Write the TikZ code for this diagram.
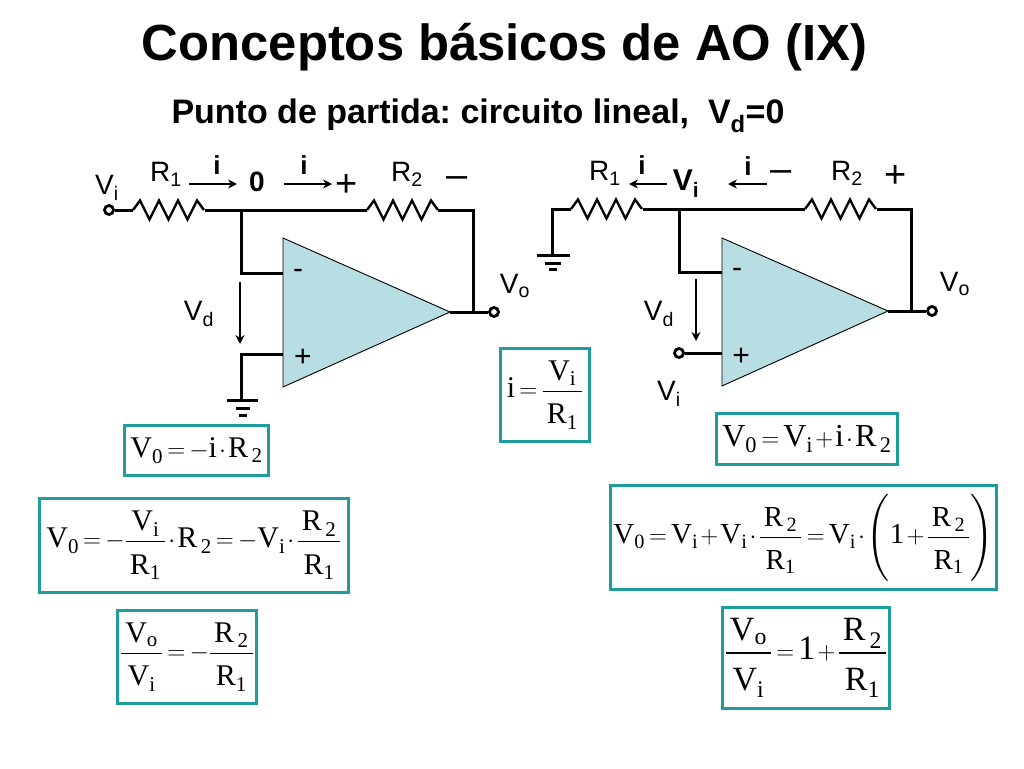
\documentclass[tikz,border=0pt]{standalone}
\usepackage{amsmath,amssymb}
\usepackage{xcolor}
\usepackage{fontspec}
\setmainfont{Liberation Sans}
\setmathrm{Liberation Serif}
\setmathsf{Liberation Sans}
\usetikzlibrary{arrows.meta}
\definecolor{boxteal}{HTML}{1F9C9C}
\definecolor{opfill}{HTML}{B8DDE3}
\thickmuskip=3mu
\medmuskip=1.5mu
\frenchspacing
\newcommand{\Vsub}[1]{\mathrm{V}_{\mathrm{#1}}}
\newcommand{\Rsub}[1]{\mathrm{R}_{\,\mathrm{#1}}}
\newcommand{\Lsub}[2]{#1$_{\text{#2}}$}
\newcommand{\fsize}[1]{\fontsize{#1}{#1}\selectfont}
\newcommand{\eqfrac}[2]{\dfrac{\,#1\rule[-0.22em]{0pt}{0.22em}\,}{\rule{0pt}{0.95em}\,#2\,}}
\tikzset{
  wire/.style={draw=black, line width=3pt, line join=miter},
  curarrow/.style={draw=black, line width=2.2pt, -{Stealth[length=9pt,width=9pt]}},
  opamp/.style={draw=black, line width=0.9pt, fill=opfill},
  terminal/.style={circle, draw=black, fill=white, line width=2.8pt, minimum size=9pt, inner sep=0pt},
  lbl/.style={font=\fsize{28}, inner sep=0pt},
  ilbl/.style={font=\fsize{26}\bfseries, inner sep=0pt},
  signlbl/.style={font=\fsize{38}, inner sep=0pt},
  eqbox/.style={draw=boxteal, line width=3pt, fill=white, inner sep=0pt, font=\fsize{30}},
  resistor/.pic={
    \draw[wire, line width=2.4pt] (0,0) -- (7,-9.5) -- (16.5,9.5) -- (26,-9.5) -- (35.5,9.5) -- (45,-9.5) -- (54.5,9.5) -- (64,-9.5) -- (71,0);
  }
}
\begin{document}
\begin{tikzpicture}[x=1pt,y=-1pt]
  \useasboundingbox (0,0) rectangle (1024,768);

  \node[font=\fsize{50.8}\bfseries, inner sep=0pt] (title) at (504.5,47) {Conceptos básicos de AO (IX)};
  \node[font=\fsize{34}\bfseries, inner sep=0pt] (subtitle) at (478,116) {Punto de partida: circuito lineal,\ \ \Lsub{V}{d}=0};

  % left circuit
  \coordinate (opa) at (283,238);
  \coordinate (opb) at (283,387);
  \coordinate (opc) at (450,312);
  \draw[opamp] (opa) -- (opc) -- (opb) -- cycle;
  \node[terminal] (vil) at (109,210) {};
  \node[terminal] (vol) at (494,312) {};
  \coordinate (r1a) at (133,210);
  \coordinate (r1b) at (205,210);
  \coordinate (r2a) at (367,210);
  \coordinate (r2b) at (438,210);
  \coordinate (fbt) at (473,210);
  \coordinate (fbb) at (473,312);
  \coordinate (jct) at (241,210);
  \coordinate (inm) at (241,273);
  \coordinate (inmo) at (283,273);
  \coordinate (inp) at (241,354);
  \coordinate (inpo) at (283,354);
  \coordinate (gnd) at (241,400);
  \pic at (r1a) {resistor};
  \pic at (r2a) {resistor};
  \draw[wire] (vil) -- (r1a);
  \draw[wire] (r1b) -- (r2a);
  \draw[wire] (r2b) -- (fbt) -- (fbb);
  \draw[wire] (opc) -- (vol);
  \draw[wire] (jct) -- (inm) -- (inmo);
  \draw[wire] (inpo) -- (inp) -- (gnd);
  \draw[wire] (227,400) -- (258,400);
  \draw[wire] (236,408) -- (250,408);
  \draw[wire] (239,415) -- (247,415);
  \coordinate (vda) at (240,282);
  \coordinate (vdb) at (240,344);
  \draw[curarrow] (vda) -- (vdb);
  \coordinate (ia) at (189,184);
  \coordinate (ib) at (237,184);
  \coordinate (ic) at (284,184);
  \coordinate (id) at (332,184);
  \draw[curarrow] (ia) -- (ib);
  \draw[curarrow] (ic) -- (id);

  \node[lbl] (lvil) at (107,188) {\Lsub{V}{i}};
  \node[lbl] (lr1l) at (166,174) {\Lsub{R}{1}};
  \node[ilbl] (lil) at (217,165) {i};
  \node[font=\fsize{28}\bfseries, inner sep=0pt] (lzero) at (257,182) {0};
  \node[ilbl] (lir) at (304,165) {i};
  \node[signlbl] (lplus) at (347,186) {+};
  \node[lbl] (lr2l) at (407,174) {\Lsub{R}{2}};
  \node[signlbl] (lminus) at (457,182) {–};
  \node[lbl] (lvol) at (515,286) {\Lsub{V}{o}};
  \node[lbl] (lvdl) at (199,314) {\Lsub{V}{d}};
  \node[font=\fsize{30}, inner sep=0pt] (lopm) at (298,274) {-};
  \node[font=\fsize{30}, inner sep=0pt] (lopp) at (303,358) {+};

  % right circuit
  \coordinate (opra) at (722,238);
  \coordinate (oprb) at (722,386);
  \coordinate (oprc) at (888,311);
  \draw[opamp] (opra) -- (oprc) -- (oprb) -- cycle;
  \node[terminal] (vor) at (932,311) {};
  \node[terminal] (vir) at (679,353) {};
  \coordinate (gr) at (552,255);
  \coordinate (grt) at (552,209);
  \coordinate (rr1a) at (571,209);
  \coordinate (rr1b) at (643,209);
  \coordinate (rr2a) at (805,209);
  \coordinate (rr2b) at (877,209);
  \coordinate (fbrt) at (911,209);
  \coordinate (fbrb) at (911,311);
  \coordinate (jctr) at (679,209);
  \coordinate (inmr) at (679,272);
  \coordinate (inmro) at (722,272);
  \coordinate (inpro) at (722,353);
  \pic at (rr1a) {resistor};
  \pic at (rr2a) {resistor};
  \draw[wire] (gr) -- (grt) -- (rr1a);
  \draw[wire] (rr1b) -- (rr2a);
  \draw[wire] (rr2b) -- (fbrt) -- (fbrb);
  \draw[wire] (oprc) -- (vor);
  \draw[wire] (jctr) -- (inmr) -- (inmro);
  \draw[wire] (vir) -- (inpro);
  \draw[wire] (537,255) -- (570,255);
  \draw[wire] (545,263) -- (561,263);
  \draw[wire] (549,269) -- (557,269);
  \coordinate (vdra) at (696,279);
  \coordinate (vdrb) at (696,341);
  \draw[curarrow] (vdra) -- (vdrb);
  \coordinate (ira) at (667,184);
  \coordinate (irb) at (629,184);
  \coordinate (irc) at (767,184);
  \coordinate (ird) at (728,184);
  \draw[curarrow] (ira) -- (irb);
  \draw[curarrow] (irc) -- (ird);

  \node[lbl] (lr1r) at (605,173) {\Lsub{R}{1}};
  \node[ilbl] (lirl) at (642,165) {i};
  \node[font=\fsize{30}\bfseries, inner sep=0pt] (lvir) at (686,184) {\Lsub{V}{i}};
  \node[ilbl] (lirr) at (748,166) {i};
  \node[signlbl] (lminusr) at (781,176) {–};
  \node[lbl] (lr2r) at (847,173) {\Lsub{R}{2}};
  \node[signlbl] (lplusr) at (896,177) {+};
  \node[lbl] (lvor) at (955,284) {\Lsub{V}{o}};
  \node[lbl] (lvdr) at (659,314) {\Lsub{V}{d}};
  \node[lbl] (lvil2) at (669,394) {\Lsub{V}{i}};
  \node[font=\fsize{30}, inner sep=0pt] (loprm) at (737,273) {-};
  \node[font=\fsize{30}, inner sep=0pt] (loprp) at (741,357) {+};

  % equations
  \node[eqbox, minimum width=89pt, minimum height=93pt] (eqi) at (545,395)
    {$\mathrm{i}=\eqfrac{\Vsub{i}}{\mathrm{R}_{\mathrm{1}}}$};
  \node[eqbox, minimum width=144pt, minimum height=50pt] (eqa) at (196.5,450.5)
    {$\Vsub{0}=-\mathrm{i}\cdot\Rsub{2}$};
  \node[eqbox, minimum width=309pt, minimum height=94pt] (eqb) at (194,545.5)
    {$\Vsub{0}=-\eqfrac{\Vsub{i}}{\mathrm{R}_{\mathrm{1}}}\cdot\Rsub{2}=-\Vsub{i}\cdot\eqfrac{\Rsub{2}}{\mathrm{R}_{\mathrm{1}}}$};
  \node[eqbox, minimum width=139pt, minimum height=93pt] (eqc) at (187,657)
    {$\eqfrac{\Vsub{o}}{\Vsub{i}}=-\eqfrac{\Rsub{2}}{\mathrm{R}_{\mathrm{1}}}$};
  \node[eqbox, font=\fsize{32}, minimum width=181pt, minimum height=51pt] (eqd) at (807,439)
    {$\Vsub{0}=\Vsub{i}+\mathrm{i}\cdot\Rsub{2}$};
  \node[eqbox, font=\fsize{29}, minimum width=386pt, minimum height=104pt] (eqe) at (803.5,537.5)
    {$\Vsub{0}=\Vsub{i}+\Vsub{i}\cdot\eqfrac{\Rsub{2}}{\mathrm{R}_{\mathrm{1}}}=\Vsub{i}\cdot\left(\rule[-1.15em]{0pt}{2.5em}\mathrm{1}+\eqfrac{\Rsub{2}}{\mathrm{R}_{\mathrm{1}}}\right)$};
  \node[eqbox, font=\fsize{34}, minimum width=167pt, minimum height=101pt] (eqf) at (806,658)
    {$\eqfrac{\Vsub{o}}{\Vsub{i}}=\mathrm{1}+\eqfrac{\Rsub{2}}{\mathrm{R}_{\mathrm{1}}}$};
\end{tikzpicture}
\end{document}
